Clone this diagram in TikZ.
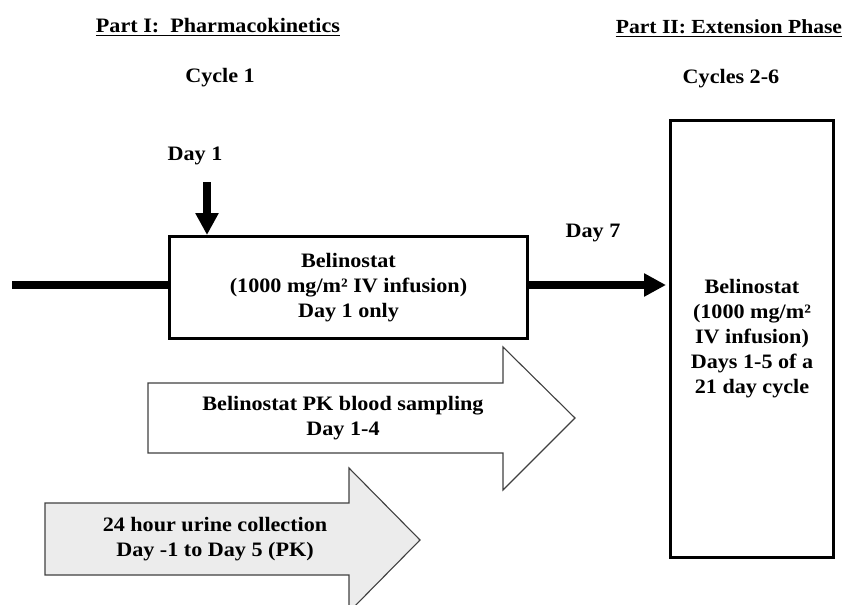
\documentclass[tikz,border=0pt]{standalone}
\usepackage{fontspec}
\setmainfont{Liberation Serif}[FakeStretch=1.08]
\usetikzlibrary{arrows.meta}
\begin{document}
\begin{tikzpicture}[x=1pt,y=-1pt,
  lbl/.style={font=\fontsize{20.5}{25}\selectfont\bfseries, inner sep=0pt, align=center},
  boxa/.style={draw, line width=3pt, inner sep=0pt, lbl},
  bigarrow/.style={draw=black!75, line width=1.1pt, line join=miter},
  thickarrow/.style={line width=8pt, -{Triangle[length=22pt,width=22pt]}},
  uline/.style={line width=1.6pt}
]
\clip (0,0) rectangle (846,605);
\useasboundingbox (0,0) rectangle (846,605);

% headings
\node[lbl, anchor=base] (p1) at (218,32) {Part I:\ \ Pharmacokinetics};
\draw[uline] ([yshift=-3.5pt]p1.base west) -- ([yshift=-3.5pt]p1.base east);
\node[lbl, anchor=base] (c1) at (220,82) {Cycle 1};
\node[lbl, anchor=base, font=\fontsize{20}{25}\selectfont\bfseries] (p2) at (729,33) {Part II:\ Extension Phase};
\draw[uline] ([yshift=-3.5pt]p2.base west) -- ([yshift=-3.5pt]p2.base east);
\node[lbl, anchor=base] (c2) at (731,83) {Cycles 2-6};

\node[lbl, anchor=base] (d1) at (195,160) {Day 1};
\node[lbl, anchor=base] (d7) at (593,237) {Day 7};

% boxes
\node[boxa, minimum width=358pt, minimum height=102pt] (b1) at (348.5,287.5)
  {Belinostat\\(1000 mg/m² IV infusion)\\Day 1 only};
\node[boxa, minimum width=163pt, minimum height=437pt] (b2) at (752,339)
  {Belinostat\\(1000 mg/m²\\IV infusion)\\Days 1-5 of a\\21 day cycle};

% timeline
\coordinate (s) at (12,285);
\draw[line width=8pt] (s) -- (s -| b1.west);
\draw[thickarrow, shorten >=3pt] (b1.east |- s) -- (b2.west |- s);
\coordinate (dtop) at (207,182);
\draw[thickarrow] (dtop) -- (dtop |- b1.north);

% blood sampling arrow
\draw[bigarrow, fill=white] (148,383) -- (503,383) -- (503,347) -- (575,418)
  -- (503,490) -- (503,453) -- (148,453) -- cycle;
\node[lbl] (bs) at (343,418) {Belinostat PK blood sampling\\Day 1-4};

% urine arrow
\draw[bigarrow, fill=gray!15] (45,503) -- (349,503) -- (349,468) -- (420,540)
  -- (349,612) -- (349,575) -- (45,575) -- cycle;
\node[lbl] (ur) at (215,539) {24 hour urine collection\\Day -1 to Day 5 (PK)};
\end{tikzpicture}
\end{document}
